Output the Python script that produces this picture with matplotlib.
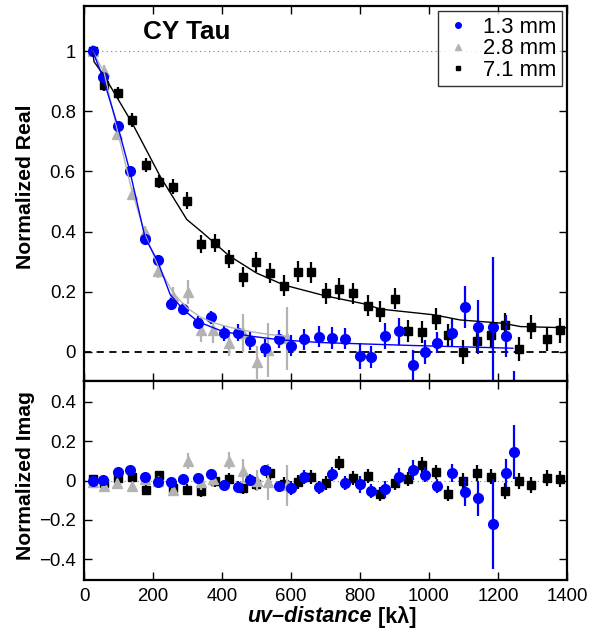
import matplotlib
matplotlib.use("Agg")
import matplotlib.pyplot as plt
from matplotlib.lines import Line2D
from matplotlib.ticker import FuncFormatter, MultipleLocator

plt.rcParams["font.family"] = ["Liberation Sans", "DejaVu Sans"]

# ---------------- 1.3 mm visibilities ----------------
uv_13 = [25, 54, 98, 133, 177, 214, 252, 288, 331, 369, 406, 445, 482, 525,
         565, 599, 637, 680, 720, 757, 799, 833, 872, 912, 954, 989, 1024,
         1066, 1104, 1141, 1186, 1223, 1245]
re_13 = [1.0, 0.915, 0.75, 0.60, 0.374, 0.306, 0.158, 0.142, 0.097, 0.115,
         0.062, 0.064, 0.035, 0.012, 0.042, 0.021, 0.042, 0.050, 0.047, 0.044,
         -0.014, -0.017, 0.052, 0.069, -0.043, -0.002, 0.030, 0.064, 0.150,
         0.082, 0.084, 0.054, -0.200]
im_13 = [0.0, 0.003, 0.044, 0.051, 0.020, -0.007, -0.010, 0.007, 0.015, 0.032,
         -0.022, -0.032, 0.003, 0.051, -0.030, -0.039, 0.017, -0.035, 0.034,
         -0.012, -0.019, -0.052, -0.044, 0.017, 0.054, 0.030, -0.027, 0.039,
         -0.057, -0.091, -0.221, 0.039, 0.145]
err_13 = [0.015, 0.015, 0.015, 0.015, 0.015, 0.017, 0.02, 0.02, 0.022, 0.022,
          0.025, 0.028, 0.03, 0.03, 0.03, 0.035, 0.035, 0.035, 0.037, 0.035,
          0.044, 0.036, 0.043, 0.045, 0.05, 0.04, 0.035, 0.045, 0.07, 0.09,
          0.23, 0.07, 0.135]

# ---------------- 2.8 mm visibilities ----------------
uv_28 = [25, 58, 97, 138, 177, 215, 259, 300, 338, 375, 421, 462, 500, 534, 587]
re_28 = [1.0, 0.935, 0.724, 0.525, 0.399, 0.270, 0.184, 0.200, 0.073, 0.073,
         0.029, 0.063, -0.035, 0.007, 0.045]
im_28 = [-0.01, -0.03, -0.013, -0.03, 0.01, -0.005, -0.046, 0.098, -0.008,
         0.01, 0.101, 0.047, 0.0, -0.008, -0.025]
err_28 = [0.02, 0.02, 0.02, 0.02, 0.02, 0.025, 0.03, 0.04, 0.04, 0.042,
          0.042, 0.064, 0.055, 0.09, 0.105]

# ---------------- 7.1 mm visibilities ----------------
uv_71 = [25, 59, 99, 138, 181, 218, 259, 299, 339, 379, 420, 460, 499, 539,
         579, 621, 657, 702, 738, 779, 823, 857, 901, 939, 980, 1020, 1056,
         1100, 1140, 1181, 1221, 1261, 1297, 1341, 1381]
re_71 = [1.0, 0.887, 0.862, 0.771, 0.621, 0.566, 0.549, 0.502, 0.358, 0.361,
         0.310, 0.250, 0.300, 0.261, 0.220, 0.267, 0.264, 0.195, 0.209, 0.195,
         0.153, 0.133, 0.177, 0.069, 0.066, 0.110, 0.055, -0.001, 0.035, 0.055,
         0.088, 0.008, 0.084, 0.044, 0.071]
im_71 = [0.01, -0.014, 0.014, 0.02, -0.047, 0.027, -0.038, -0.048, -0.052,
         -0.005, 0.008, -0.038, -0.016, 0.038, -0.018, -0.008, 0.017, -0.012,
         0.088, 0.012, 0.022, -0.069, -0.012, 0.008, 0.081, 0.044, -0.067, 0.0,
         0.037, 0.020, -0.054, -0.003, -0.022, 0.012, 0.007]
err_71 = [0.02, 0.02, 0.02, 0.022, 0.022, 0.022, 0.025, 0.028, 0.03, 0.03,
          0.03, 0.033, 0.033, 0.033, 0.035, 0.035, 0.035, 0.035, 0.035, 0.035,
          0.035, 0.035, 0.035, 0.037, 0.037, 0.037, 0.037, 0.04, 0.04, 0.04,
          0.04, 0.04, 0.04, 0.04, 0.04]

# ---------------- model curves ----------------
mod_uv_13 = [25, 54, 98, 133, 177, 214, 250, 288, 331, 404, 491, 568, 684, 954, 1243]
mod_re_13 = [1.0, 0.915, 0.75, 0.60, 0.38, 0.30, 0.19, 0.14, 0.10, 0.067,
             0.051, 0.040, 0.031, 0.021, 0.012]
mod_uv_28 = [25, 58, 97, 138, 177, 215, 259, 300, 338, 375, 421, 462, 500, 534, 587]
mod_re_28 = [1.0, 0.93, 0.735, 0.54, 0.39, 0.285, 0.195, 0.145, 0.115, 0.097,
             0.082, 0.072, 0.064, 0.058, 0.052]
mod_uv_71 = [25, 29, 60, 140, 220, 298, 340, 420, 500, 580, 700, 810, 860,
             1015, 1090, 1215, 1265, 1400]
mod_re_71 = [1.0, 0.965, 0.915, 0.76, 0.585, 0.44, 0.40, 0.32, 0.262, 0.222,
             0.186, 0.16, 0.142, 0.123, 0.106, 0.095, 0.084, 0.08]

labels = ["1.3 mm", "2.8 mm", "7.1 mm"]
c_13, c_28, c_71 = "#0000ff", "#b3b3b3", "#000000"

W, H = 593, 628
fig = plt.figure(figsize=(W / 100, H / 100), dpi=100)
left, right = 84 / W, 567 / W
ax1 = fig.add_axes([left, 1 - 381 / H, right - left, (381 - 6) / H])
ax2 = fig.add_axes([left, 1 - 580 / H, right - left, (580 - 381) / H], sharex=ax1)

eb_kw = dict(capsize=0, elinewidth=1.6, ls="none")


def draw_panel(ax, y13, y28, y71):
    ax.errorbar(uv_71, y71, yerr=err_71, fmt="s", color=c_71, ms=5.5, zorder=3, **eb_kw)
    ax.errorbar(uv_28, y28, yerr=err_28, fmt="^", color=c_28, ms=7, zorder=4, **eb_kw)
    ax.errorbar(uv_13, y13, yerr=err_13, fmt="o", color=c_13, ms=7, zorder=5, **eb_kw)


# top panel: real part
ax1.plot(mod_uv_71, mod_re_71, color=c_71, lw=1.0, zorder=6)
ax1.plot(mod_uv_28, mod_re_28, color=c_28, lw=1.0, zorder=6)
ax1.plot(mod_uv_13, mod_re_13, color=c_13, lw=1.0, zorder=7)
draw_panel(ax1, re_13, re_28, re_71)
ax1.axhline(1, color="0.5", ls=(0, (1, 3)), lw=0.8, zorder=1)
ax1.axhline(0, color="k", ls=(0, (4, 3)), lw=1.3, zorder=1)
ax1.set_ylim(-0.097, 1.15)
ax1.yaxis.set_major_locator(MultipleLocator(0.2))
ax1.text(170, 1.063, "CY Tau", fontsize=18.8, fontweight="bold", va="center", ha="left")
plt.setp(ax1.get_xticklabels(), visible=False)

handles = [
    Line2D([], [], marker="o", color=c_13, ls="none", ms=4),
    Line2D([], [], marker="^", color=c_28, ls="none", ms=4),
    Line2D([], [], marker="s", color=c_71, ls="none", ms=3.2),
]
leg = ax1.legend(handles, labels, loc="upper right", fontsize=15.8, frameon=True,
                 fancybox=False, edgecolor="k", borderaxespad=0.25,
                 labelspacing=0.02, handletextpad=0.4, handlelength=1.4,
                 borderpad=0.25)
leg.get_frame().set_linewidth(1.0)

# bottom panel: imaginary part
draw_panel(ax2, im_13, im_28, im_71)
ax2.axhline(0, color="0.5", ls=(0, (1, 3)), lw=0.8, zorder=1)
ax2.set_ylim(-0.505, 0.505)
ax2.yaxis.set_major_locator(MultipleLocator(0.2))
ax2.set_xlim(0, 1400)
ax2.xaxis.set_major_locator(MultipleLocator(200))

fmt = FuncFormatter(lambda v, p: ("%g" % round(v, 3)).replace("-", "\u2212"))
for ax in (ax1, ax2):
    ax.yaxis.set_major_formatter(fmt)
    ax.tick_params(direction="in", top=True, right=True, length=6, width=1.0,
                   labelsize=13.4, pad=6)
    for s in ax.spines.values():
        s.set_linewidth(1.6)

# axis titles
fig.text(26 / W, 1 - 187 / H, "Normalized Real", fontsize=15.2, fontweight="bold",
         rotation=90, ha="center", va="center")
fig.text(26 / W, 1 - 475 / H, "Normalized Imag", fontsize=15.2, fontweight="bold",
         rotation=90, ha="center", va="center")

# x-axis title: italic bold "uv–distance" followed by upright "[kλ]"
ylab = 1 - 617 / H
t1 = fig.text(0.5, ylab, "uv\u2013distance", fontsize=15.5,
              fontweight="bold", fontstyle="italic", ha="left", va="center")
t2 = fig.text(0.5, ylab, " [k\u03bb]", fontsize=15.5, fontweight="bold",
              ha="left", va="center")
fig.canvas.draw()
r = fig.canvas.get_renderer()
w1 = t1.get_window_extent(r).width
w2 = t2.get_window_extent(r).width
x0 = 332 - (w1 + w2) / 2
t1.set_x(x0 / W)
t2.set_x((x0 + w1) / W)

fig.savefig("out.png", dpi=100)
